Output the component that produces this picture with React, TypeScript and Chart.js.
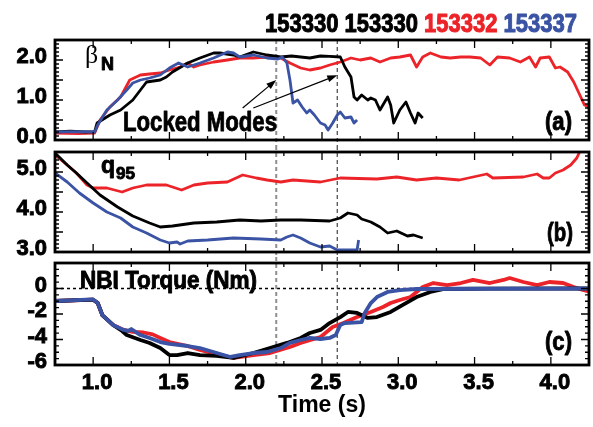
import React, { useEffect, useRef } from "react";
import { Chart, registerables } from "chart.js";

Chart.register(...registerables);

const W = 593;
const H = 427;
const SANS = '"Liberation Sans", Arial, Helvetica, sans-serif';
const SERIF = '"Liberation Serif", "Times New Roman", serif';
const RED = "#ec2328";
const BLUE = "#3a53a4";
const BLACK = "#000000";

// ---------- Panel (a): beta_N ----------
const tBetaBlack = [0.75, 0.85, 0.95, 1.01, 1.026, 1.11, 1.18, 1.26, 1.31, 1.35, 1.44, 1.48, 1.52, 1.62, 1.70, 1.79, 1.83, 1.92, 1.96, 2.05, 2.14, 2.23, 2.30, 2.36, 2.42, 2.49, 2.55, 2.62, 2.65, 2.69, 2.71, 2.73, 2.76, 2.80, 2.82, 2.85, 2.88, 2.93, 2.95, 2.97, 3.01, 3.05, 3.08, 3.11, 3.13, 3.16];
const betaBlack = [0.20, 0.22, 0.20, 0.21, 0.425, 0.625, 0.75, 1.00, 1.25, 1.45, 1.50, 1.575, 1.70, 1.925, 2.05, 2.175, 2.175, 2.125, 2.075, 2.20, 2.125, 2.075, 2.10, 2.075, 2.05, 2.10, 2.09, 2.075, 1.825, 1.575, 1.075, 1.00, 1.125, 1.00, 1.05, 1.00, 0.75, 1.075, 0.875, 0.425, 0.75, 0.95, 0.675, 0.425, 0.675, 0.55];

const tBetaRed = [0.75, 0.90, 1.01, 1.045, 1.11, 1.18, 1.24, 1.31, 1.37, 1.44, 1.50, 1.57, 1.62, 1.66, 1.70, 1.79, 1.88, 1.96, 2.05, 2.14, 2.23, 2.29, 2.36, 2.42, 2.49, 2.55, 2.62, 2.69, 2.75, 2.82, 2.88, 2.95, 3.01, 3.08, 3.12, 3.16, 3.21, 3.28, 3.34, 3.41, 3.47, 3.54, 3.60, 3.65, 3.73, 3.80, 3.86, 3.90, 3.93, 3.99, 4.03, 4.06, 4.11, 4.15, 4.19, 4.22, 4.27];
const betaRed = [0.175, 0.16, 0.175, 0.50, 0.825, 1.075, 1.50, 1.625, 1.65, 1.675, 1.75, 1.825, 1.925, 1.825, 1.875, 1.95, 2.00, 2.05, 2.05, 2.075, 2.05, 1.925, 1.80, 1.75, 1.80, 1.875, 1.95, 2.05, 2.00, 2.05, 1.95, 2.05, 2.075, 2.125, 1.825, 2.075, 2.175, 2.075, 2.05, 2.075, 2.075, 2.05, 1.875, 2.075, 2.05, 1.95, 2.075, 1.825, 2.05, 2.075, 1.80, 1.825, 1.70, 1.45, 1.125, 0.875, 0.80];

const tBetaBlue = [0.75, 0.90, 1.01, 1.03, 1.09, 1.16, 1.22, 1.26, 1.31, 1.37, 1.44, 1.50, 1.56, 1.62, 1.70, 1.79, 1.88, 1.92, 1.96, 2.05, 2.14, 2.21, 2.24, 2.27, 2.29, 2.31, 2.34, 2.37, 2.40, 2.42, 2.45, 2.49, 2.52, 2.54, 2.57, 2.60, 2.62, 2.65, 2.69, 2.71, 2.73];
const betaBlue = [0.20, 0.21, 0.20, 0.375, 0.75, 1.00, 1.25, 1.425, 1.50, 1.55, 1.625, 1.80, 1.925, 1.825, 1.925, 2.05, 2.20, 2.175, 2.075, 2.125, 2.05, 2.025, 2.075, 1.925, 1.50, 0.925, 1.00, 0.825, 0.675, 0.75, 0.625, 0.425, 0.375, 0.25, 0.425, 0.625, 0.70, 0.55, 0.575, 0.425, 0.50];

// ---------- Panel (b): q95 ----------
const tQBlack = [0.75, 0.83, 0.89, 0.96, 1.045, 1.16, 1.26, 1.37, 1.44, 1.52, 1.66, 1.81, 1.96, 2.10, 2.23, 2.36, 2.55, 2.62, 2.67, 2.73, 2.76, 2.82, 2.88, 2.93, 2.99, 3.06, 3.10, 3.16];
const qBlack = [5.475, 5.175, 4.975, 4.725, 4.425, 4.125, 3.90, 3.725, 3.625, 3.65, 3.725, 3.75, 3.80, 3.775, 3.80, 3.80, 3.775, 3.85, 3.975, 3.925, 3.825, 3.75, 3.625, 3.475, 3.525, 3.40, 3.425, 3.35];

const tQRed = [0.75, 0.83, 0.89, 0.96, 1.00, 1.09, 1.19, 1.26, 1.35, 1.44, 1.48, 1.58, 1.66, 1.75, 1.88, 1.98, 2.07, 2.14, 2.23, 2.31, 2.49, 2.62, 2.86, 2.99, 3.12, 3.25, 3.40, 3.58, 3.62, 3.82, 3.91, 3.95, 3.99, 4.03, 4.08, 4.13, 4.17, 4.20];
const qRed = [5.425, 5.175, 4.975, 4.675, 4.60, 4.60, 4.50, 4.60, 4.675, 4.675, 4.675, 4.55, 4.675, 4.725, 4.75, 4.925, 4.85, 4.80, 4.75, 4.80, 4.75, 4.85, 4.825, 4.875, 4.80, 4.85, 4.80, 4.95, 4.85, 4.875, 4.95, 4.85, 4.85, 4.975, 5.05, 5.175, 5.35, 5.60];

const tQBlue = [0.75, 0.83, 0.91, 1.00, 1.09, 1.18, 1.26, 1.35, 1.44, 1.50, 1.55, 1.57, 1.62, 1.75, 1.92, 2.10, 2.23, 2.27, 2.31, 2.36, 2.42, 2.49, 2.55, 2.60, 2.73, 2.74];
const qBlue = [4.975, 4.75, 4.475, 4.225, 4.00, 3.85, 3.625, 3.475, 3.30, 3.225, 3.25, 3.20, 3.275, 3.30, 3.35, 3.325, 3.30, 3.375, 3.425, 3.35, 3.225, 3.125, 3.15, 3.05, 3.05, 3.30];

// ---------- Panel (c): NBI torque ----------
const tTorqueBlack = [0.75, 1.00, 1.03, 1.06, 1.13, 1.19, 1.22, 1.31, 1.37, 1.44, 1.50, 1.55, 1.62, 1.70, 1.81, 1.92, 2.05, 2.18, 2.27, 2.36, 2.42, 2.49, 2.55, 2.62, 2.67, 2.73, 2.80, 2.86, 2.95, 3.03, 3.12, 3.21, 3.30, 3.60, 4.25];
const torqueBlack = [-0.98, -0.88, -1.14, -2.08, -2.86, -3.33, -3.65, -4.04, -4.27, -4.67, -5.22, -5.22, -5.06, -5.22, -5.29, -5.45, -5.06, -4.59, -4.27, -3.88, -3.49, -3.25, -2.71, -2.24, -1.84, -1.92, -2.31, -2.24, -1.84, -1.29, -0.67, -0.27, -0.04, -0.01, 0];

const tTorqueRed = [0.75, 1.00, 1.03, 1.06, 1.13, 1.20, 1.26, 1.33, 1.39, 1.44, 1.50, 1.62, 1.70, 1.81, 1.92, 2.05, 2.16, 2.29, 2.36, 2.49, 2.57, 2.64, 2.73, 2.82, 2.90, 2.95, 3.01, 3.08, 3.16, 3.23, 3.32, 3.41, 3.49, 3.60, 3.69, 3.73, 3.82, 3.91, 3.99, 4.08, 4.15, 4.21, 4.26];
const torqueRed = [-0.98, -0.88, -1.14, -2.08, -2.86, -3.25, -3.40, -3.45, -3.60, -3.88, -4.20, -4.51, -4.82, -5.14, -5.45, -5.22, -5.06, -4.59, -4.27, -3.80, -3.02, -2.71, -2.24, -1.84, -1.45, -1.14, -0.90, -0.67, 0.12, 0.43, 0.27, 0.43, 0.67, 0.43, 0.67, 0.82, 0.51, 0.27, 0.51, 0.43, 0.12, -0.12, -0.27];

const tTorqueBlue = [0.75, 1.00, 1.03, 1.06, 1.13, 1.20, 1.23, 1.25, 1.31, 1.37, 1.44, 1.50, 1.62, 1.70, 1.81, 1.90, 1.96, 2.05, 2.14, 2.23, 2.29, 2.36, 2.42, 2.49, 2.55, 2.59, 2.62, 2.65, 2.76, 2.78, 2.82, 2.86, 2.93, 3.01, 3.12, 3.50, 4.25];
const torqueBlue = [-0.98, -0.86, -1.14, -2.08, -2.86, -3.25, -3.33, -3.18, -3.65, -3.88, -4.20, -4.35, -4.51, -4.67, -5.06, -5.37, -5.22, -5.06, -4.98, -4.67, -4.27, -4.04, -3.88, -3.96, -3.88, -3.65, -2.86, -2.71, -2.63, -1.92, -1.14, -0.67, -0.27, -0.12, -0.04, -0.02, 0];

// ---------- Axes, ticks, labels ----------
const timeRange = [0.75, 4.25];
const timeTicks = [1.0, 1.5, 2.0, 2.5, 3.0, 3.5, 4.0];
const betaRange = [0, 2.5];
const betaTicks = [0, 1, 2];
const q95Range = [3.0, 5.5];
const q95Ticks = [3, 4, 5];
const torqueRange = [-6, 2];
const torqueTicks = [0, -2, -4, -6];
const lockedModeTimes = [2.2, 2.6];
const shotLabels = ["153330", "153330", "153332", "153337"];
const shotColors = [BLACK, BLACK, RED, BLUE];
// arrows in data coords of panel (a): [tailTime, tailBeta, headTime, headBeta]
const lockedArrows = [
  [1.98, 0.8, 2.2, 1.5],
  [2.05, 0.8, 2.6, 1.62],
];

const zip = (t: number[], v: number[]) => t.map((x, i) => ({ x, y: v[i] }));

function fitText(ctx: CanvasRenderingContext2D, text: string, left: number, baseline: number, size: number, color: string, width?: number, weight = "bold", family = SANS, stroke = 0.9) {
  ctx.save();
  ctx.font = `${weight} ${size}px ${family}`;
  ctx.textAlign = "left";
  ctx.textBaseline = "alphabetic";
  const w = ctx.measureText(text).width;
  const sx = width ? width / w : 1;
  ctx.translate(left, baseline);
  ctx.scale(sx, 1);
  ctx.fillStyle = color;
  ctx.fillText(text, 0, 0);
  if (stroke > 0) {
    ctx.strokeStyle = color;
    ctx.lineWidth = stroke;
    ctx.lineJoin = "round";
    ctx.strokeText(text, 0, 0);
  }
  ctx.restore();
}

function arrow(ctx: CanvasRenderingContext2D, x1: number, y1: number, x2: number, y2: number) {
  ctx.save();
  ctx.strokeStyle = "#000";
  ctx.fillStyle = "#000";
  ctx.lineWidth = 1.2;
  const a = Math.atan2(y2 - y1, x2 - x1);
  const L = 10, Wd = 3.5;
  ctx.beginPath();
  ctx.moveTo(x1, y1);
  ctx.lineTo(x2 - L * 0.8 * Math.cos(a), y2 - L * 0.8 * Math.sin(a));
  ctx.stroke();
  ctx.beginPath();
  ctx.moveTo(x2, y2);
  ctx.lineTo(x2 - L * Math.cos(a) + Wd * Math.sin(a), y2 - L * Math.sin(a) - Wd * Math.cos(a));
  ctx.lineTo(x2 - L * Math.cos(a) - Wd * Math.sin(a), y2 - L * Math.sin(a) + Wd * Math.cos(a));
  ctx.closePath();
  ctx.fill();
  ctx.restore();
}

type PanelSpec = {
  xMinor: number; xMajor: number; yMinor: number; yMajor: number;
  dashUp: number; dashDown: number; zero?: boolean;
  extra?: (ctx: CanvasRenderingContext2D, chart: any) => void;
};

function panelPlugin(p: PanelSpec) {
  return {
    id: "panelDecor",
    beforeDatasetsDraw(chart: any) {
      const { ctx, chartArea: ca, scales } = chart;
      const x = scales.x, y = scales.y;
      ctx.save();
      if (p.zero) {
        const py = y.getPixelForValue(0);
        ctx.setLineDash([3, 3]);
        ctx.lineWidth = 1.5;
        ctx.strokeStyle = "#000";
        ctx.beginPath();
        ctx.moveTo(ca.left, py);
        ctx.lineTo(ca.right, py);
        ctx.stroke();
      }
      lockedModeTimes.forEach((t, i) => {
        const px = x.getPixelForValue(t);
        ctx.setLineDash([4, 3]);
        ctx.lineWidth = i === 0 ? 2 : 1.2;
        ctx.strokeStyle = i === 0 ? "#8f8f8f" : "#444";
        ctx.beginPath();
        ctx.moveTo(px, ca.top - p.dashUp);
        ctx.lineTo(px, ca.bottom + p.dashDown);
        ctx.stroke();
      });
      ctx.restore();
    },
    afterDatasetsDraw(chart: any) {
      const { ctx, chartArea: ca, scales } = chart;
      const x = scales.x, y = scales.y;
      ctx.save();
      ctx.strokeStyle = "#000";
      ctx.lineWidth = 1.3;
      ctx.setLineDash([]);
      const ticksOn = (sc: any, minor: number, major: number, horiz: boolean) => {
        const i0 = Math.ceil(sc.min / minor - 1e-6);
        const i1 = Math.floor(sc.max / minor + 1e-6);
        for (let i = i0; i <= i1; i++) {
          const v = i * minor;
          const isMajor = Math.abs(v / major - Math.round(v / major)) < 1e-6;
          const len = isMajor ? 8 : 4;
          const px = sc.getPixelForValue(v);
          ctx.beginPath();
          if (horiz) {
            ctx.moveTo(px, ca.bottom); ctx.lineTo(px, ca.bottom - len);
            ctx.moveTo(px, ca.top); ctx.lineTo(px, ca.top + len);
          } else {
            ctx.moveTo(ca.left, px); ctx.lineTo(ca.left + len, px);
            ctx.moveTo(ca.right, px); ctx.lineTo(ca.right - len, px);
          }
          ctx.stroke();
        }
      };
      ticksOn(x, p.xMinor, p.xMajor, true);
      ticksOn(y, p.yMinor, p.yMajor, false);
      ctx.lineWidth = 2.8;
      ctx.strokeRect(ca.left, ca.top, ca.right - ca.left, ca.bottom - ca.top);
      ctx.restore();
      if (p.extra) p.extra(ctx, chart);
    },
  };
}

function makeConfig(opts: {
  datasets: any[]; yRange: number[]; yTicks: number[]; top: number; bottom: number;
  showX: boolean; yFmt: (v: number) => string; plugin: any;
}) {
  const tickFont = { family: SANS, size: 22, weight: "bold" as const };
  return {
    type: "line" as const,
    data: { datasets: opts.datasets },
    options: {
      responsive: false,
      animation: false as const,
      devicePixelRatio: 1,
      events: [],
      layout: { padding: { top: opts.top, bottom: opts.bottom, left: 0, right: 4 } },
      elements: { point: { radius: 0 }, line: { tension: 0, borderJoinStyle: "round" as const } },
      plugins: { legend: { display: false }, tooltip: { enabled: false }, title: { display: false } },
      scales: {
        x: {
          type: "linear" as const,
          min: timeRange[0],
          max: timeRange[1],
          display: opts.showX,
          grid: { display: false, drawTicks: false },
          border: { display: false },
          afterBuildTicks: (s: any) => { s.ticks = timeTicks.map((v) => ({ value: v })); },
          afterFit: (s: any) => { s.height = opts.showX ? 62 : 0; },
          ticks: {
            font: tickFont, color: "#000", padding: 5, labelOffset: 4, maxRotation: 0,
            textStrokeColor: "#000", textStrokeWidth: 0.9,
            callback: (v: any) => Number(v).toFixed(1),
          },
          title: { display: opts.showX, text: "Time (s)", color: "#000", font: { family: SANS, size: 23, weight: "bold" as const }, padding: { top: 0, bottom: 8 } },
        },
        y: {
          type: "linear" as const,
          min: opts.yRange[0],
          max: opts.yRange[1],
          grid: { display: false, drawTicks: false },
          border: { display: false },
          afterBuildTicks: (s: any) => { s.ticks = opts.yTicks.map((v) => ({ value: v })); },
          afterFit: (s: any) => { s.width = 55; },
          ticks: {
            font: tickFont, color: "#000", padding: 8, labelOffset: -3,
            textStrokeColor: "#000", textStrokeWidth: 0.9,
            callback: (v: any) => opts.yFmt(Number(v)),
          },
        },
      },
    },
    plugins: [opts.plugin],
  };
}

const line = (t: number[], v: number[], color: string, width: number) => ({
  data: zip(t, v), borderColor: color, backgroundColor: color, borderWidth: width, pointRadius: 0, fill: false,
});

function configA() {
  return makeConfig({
    datasets: [
      line(tBetaBlue, betaBlue, BLUE, 2.8),
      line(tBetaBlack, betaBlack, BLACK, 2.8),
      line(tBetaRed, betaRed, RED, 2.8),
    ],
    yRange: betaRange, yTicks: betaTicks, top: 40, bottom: H - 140, showX: false,
    yFmt: (v) => v.toFixed(1),
    plugin: panelPlugin({
      xMinor: 0.25, xMajor: 0.5, yMinor: 0.1, yMajor: 0.5, dashUp: 0, dashDown: 6,
      extra: (ctx, chart) => {
        const { x, y } = chart.scales;
        // header with shot numbers
        ctx.save();
        const size = 25;
        ctx.font = `bold ${size}px ${SANS}`;
        const full = shotLabels.join(" ");
        const sx = (577 - 265) / ctx.measureText(full).width;
        ctx.translate(265, 32);
        ctx.scale(sx, 1);
        ctx.textBaseline = "alphabetic";
        ctx.lineWidth = 1;
        ctx.lineJoin = "round";
        let cx = 0;
        shotLabels.forEach((s, i) => {
          ctx.fillStyle = shotColors[i];
          ctx.strokeStyle = shotColors[i];
          ctx.fillText(s, cx, 0);
          ctx.strokeText(s, cx, 0);
          cx += ctx.measureText(s + " ").width;
        });
        ctx.restore();
        // beta_N label
        fitText(ctx, "β", 85, 63, 26, "#000", undefined, "normal", SERIF, 0);
        fitText(ctx, "N", 101, 70, 18, "#000");
        // Locked Modes
        fitText(ctx, "Locked Modes", 123, 131, 28, "#000", 154);
        lockedArrows.forEach(([t1, b1, t2, b2]) => {
          arrow(ctx, x.getPixelForValue(t1), y.getPixelForValue(b1), x.getPixelForValue(t2), y.getPixelForValue(b2));
        });
        fitText(ctx, "(a)", 545, 130, 26, "#000", 27);
      },
    }),
  });
}

function configB() {
  return makeConfig({
    datasets: [
      line(tQBlue, qBlue, BLUE, 2.8),
      line(tQBlack, qBlack, BLACK, 2.8),
      line(tQRed, qRed, RED, 2.8),
    ],
    yRange: q95Range, yTicks: q95Ticks, top: 152, bottom: H - 252, showX: false,
    yFmt: (v) => v.toFixed(1),
    plugin: panelPlugin({
      xMinor: 0.25, xMajor: 0.5, yMinor: 0.1, yMajor: 0.5, dashUp: 6, dashDown: 6,
      extra: (ctx) => {
        fitText(ctx, "q", 101, 173, 24, "#000", 14);
        fitText(ctx, "95", 116, 179, 16, "#000", 19);
        fitText(ctx, "(b)", 547, 241, 26, "#000", 26);
      },
    }),
  });
}

function configC() {
  return makeConfig({
    datasets: [
      line(tTorqueBlue, torqueBlue, BLUE, 3.8),
      line(tTorqueBlack, torqueBlack, BLACK, 3.8),
      line(tTorqueRed, torqueRed, RED, 3.8),
    ],
    yRange: torqueRange, yTicks: torqueTicks, top: 263, bottom: 0, showX: true,
    yFmt: (v) => String(v),
    plugin: panelPlugin({
      xMinor: 0.25, xMajor: 0.5, yMinor: 0.5, yMajor: 2, dashUp: 6, dashDown: 0, zero: true,
      extra: (ctx) => {
        fitText(ctx, "NBI Torque (Nm)", 80, 288, 23, "#000", 177);
        fitText(ctx, "(c)", 545, 350, 26, "#000", 27);
      },
    }),
  });
}

function ChartLayer({ make }: { make: () => any }) {
  const ref = useRef<HTMLCanvasElement>(null);
  useEffect(() => {
    if (!ref.current) return;
    const chart = new Chart(ref.current, make());
    return () => chart.destroy();
  }, [make]);
  return (
    <canvas
      ref={ref}
      width={W}
      height={H}
      style={{ position: "absolute", left: 0, top: 0, width: W, height: H }}
    />
  );
}

export default function App() {
  return (
    <div style={{ position: "fixed", left: 0, top: 0, width: W, height: H, background: "#ffffff", overflow: "hidden" }}>
      <ChartLayer make={configA} />
      <ChartLayer make={configB} />
      <ChartLayer make={configC} />
    </div>
  );
}
